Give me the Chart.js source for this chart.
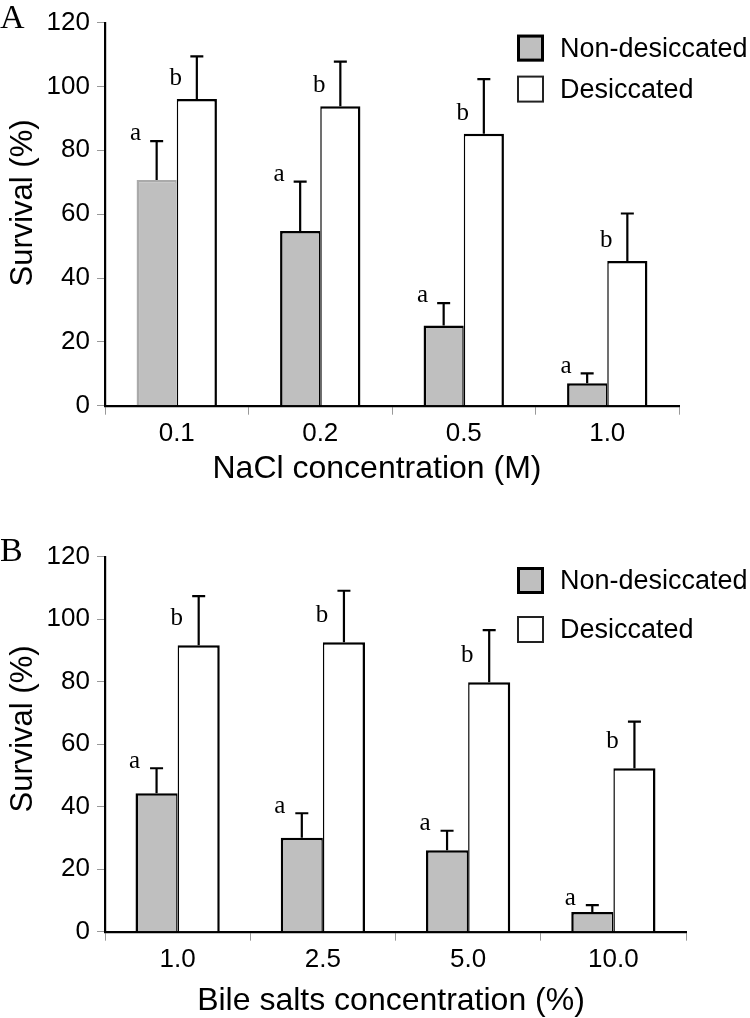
<!DOCTYPE html>
<html><head><meta charset="utf-8">
<script src="https://cdn.jsdelivr.net/npm/chart.js@4.4.1/dist/chart.umd.min.js"></script>
<style>
html,body{margin:0;padding:0;background:#fff;}
#wrap{position:relative;width:750px;height:1018px;overflow:hidden;}
canvas{position:absolute;left:0;}
</style></head><body>
<div id="wrap">
<canvas id="cA" width="750" height="500" style="top:0"></canvas>
<canvas id="cB" width="750" height="518" style="top:500px"></canvas>
</div>
<script>
// ---- data ----
const seriesNames = ['Non-desiccated', 'Desiccated'];
const yTicks = [0, 20, 40, 60, 80, 100, 120];
const yTitle = 'Survival (%)';

const naclLabels = ['0.1', '0.2', '0.5', '1.0'];
const naclNonDes = [70.7, 54.7, 25.1, 7.0];
const naclNonDesErr = [12.2, 15.5, 7.0, 3.1];
const naclDes = [96.1, 93.8, 85.2, 45.3];
const naclDesErr = [13.3, 14.0, 17.1, 14.9];

const bileLabels = ['1.0', '2.5', '5.0', '10.0'];
const bileNonDes = [44.3, 30.1, 26.1, 6.3];
const bileNonDesErr = [8.0, 7.8, 6.2, 2.2];
const bileDes = [91.7, 92.6, 79.8, 52.3];
const bileDesErr = [15.7, 16.5, 16.7, 14.9];

const nonDesLetters = ['a', 'a', 'a', 'a'];
const desLetters = ['b', 'b', 'b', 'b'];

// ---- drawing ----
const SANS = '"Liberation Sans", Arial, Helvetica, sans-serif';
const SERIF = '"Liberation Serif", "Times New Roman", serif';

const decoPlugin = {
  id: 'deco',
  afterDatasetsDraw(chart, args, o) {
    const ctx = chart.ctx, ys = chart.scales.y;
    ctx.save();
    chart.data.datasets.forEach((ds, i) => {
      const meta = chart.getDatasetMeta(i);
      meta.data.forEach((bar, j) => {
        const v = ds.data[j], e = ds.errors[j];
        const yt = ys.getPixelForValue(v + e);
        ctx.strokeStyle = '#000';
        ctx.lineWidth = 2.2;
        ctx.beginPath();
        ctx.moveTo(bar.x, bar.y);
        ctx.lineTo(bar.x, yt);
        ctx.moveTo(bar.x - o.cap / 2, yt);
        ctx.lineTo(bar.x + o.cap / 2, yt);
        ctx.stroke();
        const lv = i === 0 ? v + e + o.errGap : v + o.barGap;
        ctx.fillStyle = '#000';
        ctx.font = '25px ' + SERIF;
        ctx.textAlign = 'center';
        ctx.textBaseline = 'middle';
        ctx.fillText(ds.letters[j], bar.x - bar.width / 2 - 1, ys.getPixelForValue(lv));
      });
    });
    ctx.restore();
  },
  afterDraw(chart, args, o) {
    const ctx = chart.ctx, ca = chart.chartArea;
    ctx.save();
    // legend
    chart.data.datasets.forEach((ds, i) => {
      const bx = o.legendX, by = ca.top + o.legendTop + i * o.legendGap, s = 27;
      ctx.fillStyle = ds.backgroundColor;
      ctx.fillRect(bx, by, s, s);
      const lw = i === 0 ? 3 : 2;
      ctx.lineWidth = lw;
      ctx.strokeStyle = i === 0 ? '#000' : '#222';
      ctx.strokeRect(bx + lw / 2, by + lw / 2, s - lw, s - lw);
      ctx.fillStyle = '#000';
      ctx.font = '27px ' + SANS;
      ctx.textAlign = 'left';
      ctx.textBaseline = 'middle';
      ctx.fillText(ds.label, bx + 43, by + s / 2 + 1);
    });
    // axis titles
    ctx.fillStyle = '#000';
    ctx.font = '32px ' + SANS;
    ctx.textAlign = 'center';
    ctx.textBaseline = 'middle';
    ctx.fillText(o.xTitle, o.xTitleX, o.xTitleY);
    ctx.save();
    ctx.translate(o.yTitleX, o.yTitleY);
    ctx.rotate(-Math.PI / 2);
    ctx.font = '31px ' + SANS;
    ctx.fillText(yTitle, 0, 0);
    ctx.restore();
    // panel letter
    ctx.font = '34px ' + SERIF;
    ctx.textAlign = 'left';
    ctx.textBaseline = 'alphabetic';
    ctx.fillText(o.panel, 0, o.panelY);
    ctx.restore();
  }
};

function makeChart(id, labels, nd, ndErr, d, dErr, xTitle, c) {
  return new Chart(document.getElementById(id), {
    type: 'bar',
    data: {
      labels: labels,
      datasets: [
        { label: seriesNames[0], data: nd, errors: ndErr, letters: nonDesLetters,
          backgroundColor: '#bfbfbf', borderColor: c.ndBorder,
          borderWidth: { top: 2.5, left: 2.5, right: 1.5, bottom: 0 }, borderSkipped: false,
          categoryPercentage: c.catPct, barPercentage: 1 },
        { label: seriesNames[1], data: d, errors: dErr, letters: desLetters,
          backgroundColor: '#ffffff', borderColor: '#000',
          borderWidth: { top: 2.5, left: 1.5, right: 2.5, bottom: 0 }, borderSkipped: false,
          categoryPercentage: c.catPct, barPercentage: 1 }
      ]
    },
    options: {
      responsive: false, animation: false, devicePixelRatio: 1,
      layout: { padding: { top: c.top, right: c.right, left: 0, bottom: 0 } },
      plugins: {
        legend: { display: false }, tooltip: { enabled: false },
        deco: { cap: 13, errGap: 2.3, barGap: c.barGap, legendX: 517, legendTop: c.legendTop,
                legendGap: c.legendGap, panel: c.panel, panelY: c.panelY,
                xTitle: xTitle, xTitleX: c.xTitleX, xTitleY: c.xTitleY,
                yTitleX: 23, yTitleY: c.yTitleY }
      },
      scales: {
        x: {
          grid: { offset: true, drawOnChartArea: false, drawTicks: true, tickLength: 9, color: '#999', lineWidth: 1 },
          border: { display: true, color: '#000', width: 2.2 },
          ticks: { color: '#000', font: { family: SANS, size: 26 }, padding: 4, maxRotation: 0 },
          afterFit(s) { s.height = c.xHeight; }
        },
        y: {
          min: 0, max: 120,
          afterBuildTicks(s) { s.ticks = yTicks.map(v => ({ value: v })); },
          grid: { drawOnChartArea: false, drawTicks: true, tickLength: 8, color: '#999', lineWidth: 1 },
          border: { display: true, color: '#000', width: 2.2 },
          ticks: { color: '#000', font: { family: SANS, size: 26 }, padding: 7 },
          afterFit(s) { s.width = 105; }
        }
      }
    },
    plugins: [decoPlugin]
  });
}

makeChart('cA', naclLabels, naclNonDes, naclNonDesErr, naclDes, naclDesErr, 'NaCl concentration (M)',
  { top: 20, right: 71, xHeight: 94.3, catPct: 0.56, barGap: 6.5,
    legendTop: 12, legendGap: 41, panel: 'A', panelY: 28,
    xTitleX: 377, xTitleY: 469, yTitleY: 203,
    ndBorder: ['#aaa', '#000', '#000', '#000'] });

makeChart('cB', bileLabels, bileNonDes, bileNonDesErr, bileDes, bileDesErr, 'Bile salts concentration (%)',
  { top: 56.7, right: 64, xHeight: 86.3, catPct: 0.58, barGap: 8.5,
    legendTop: 10.3, legendGap: 49, panel: 'B', panelY: 61,
    xTitleX: 391, xTitleY: 501, yTitleY: 229,
    ndBorder: '#000' });
</script>
</body></html>
